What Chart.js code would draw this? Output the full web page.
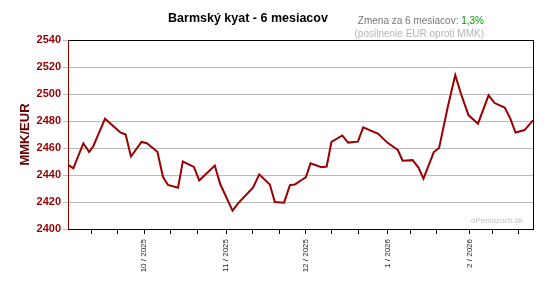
<!DOCTYPE html>
<html>
<head>
<meta charset="utf-8">
<script src="https://cdn.jsdelivr.net/npm/chart.js@4/dist/chart.umd.min.js"></script>
<style>
  body { margin: 0; background: #fff; }
  #wrap { position: relative; width: 559px; height: 284px; font-family: "Liberation Sans", Arial, sans-serif; }
  #title { position: absolute; left: 0; width: 496px; top: 11px; text-align: center; font-weight: bold; font-size: 12.5px; color: #000; }
  #change { position: absolute; right: 75px; top: 14px; font-size: 10px; color: #777; text-align: right; line-height: 13px; }
  #change .pct { color: #009900; }
  #change .sub { color: #b5b5b5; }
  #mark { position: absolute; left: 471px; top: 216px; font-size: 8px; color: #c0c0c0; }
</style>
</head>
<body>
<div id="wrap">
  <canvas id="c" width="559" height="284"></canvas>
  <div id="title">Barmský kyat - 6 mesiacov</div>
  <div id="change">Zmena za 6 mesiacov: <span class="pct">1,3%</span><br><span class="sub">(posilnenie EUR oproti MMK)</span></div>
  <div id="mark">oPeniazoch.sk</div>
</div>
<script>
// days since 1 Sep 2025
const days = [1.3, 3.2, 7.0, 9.2, 10.8, 15.2, 21.0, 23.0, 25.0, 29.0, 31.0, 35.0, 37.1, 39.0, 42.8, 44.6, 48.8, 50.8,
  56.7, 58.7, 63.4, 65.5, 71.2, 73.5, 77.5, 79.4, 82.9, 85.1, 87.0, 89.5, 91.1, 92.9, 97.0, 99.0, 100.8, 104.9,
  107.1, 110.8, 112.8, 118.5, 121.9, 125.9, 127.7, 131.5, 133.7, 135.6, 139.5, 141.5, 144.8, 147.6, 149.8, 152.6,
  156.2, 160.2, 162.5, 166.3, 168.4, 170.4, 173.8, 177];
const rates = [2447.5, 2445, 2463.5, 2457, 2461.5, 2481.7, 2471.5, 2470, 2453.7, 2464.5, 2463.5, 2457.2, 2438.7, 2432.6, 2430.6, 2450, 2446, 2436,
  2447, 2433.5, 2413.6, 2419, 2430.8, 2440.5, 2433, 2420, 2419.5, 2432.5, 2433, 2436.3, 2438.3, 2448.6, 2445.7, 2446.3, 2464.5, 2469.3,
  2464, 2464.7, 2475.3, 2470.5, 2464, 2458.5, 2450.6, 2451, 2445.5, 2437.3, 2457, 2460, 2490.5, 2514, 2500, 2484.4,
  2478, 2499, 2493.3, 2490, 2482, 2471.5, 2473.3, 2480.5];

const tickDays = [10, 20, 30, 40, 50, 61, 71, 81, 91, 101, 111, 122, 130.5, 140.5, 153, 161.5, 171.5];
const monthLabels = {30: '10 / 2025', 61: '11 / 2025', 91: '12 / 2025', 122: '1 / 2026', 153: '2 / 2026'};

const frame = {
  id: 'frame',
  afterDraw(chart) {
    const {ctx, chartArea: a} = chart;
    ctx.save();
    ctx.strokeStyle = '#000';
    ctx.lineWidth = 1;
    ctx.beginPath();
    ctx.moveTo(a.left, a.top + 0.5);
    ctx.lineTo(a.right + 0.5, a.top + 0.5);
    ctx.lineTo(a.right + 0.5, a.bottom);
    ctx.stroke();
    ctx.restore();
  }
};

new Chart(document.getElementById('c'), {
  type: 'line',
  data: {
    datasets: [{
      data: days.map((d, i) => ({x: d, y: rates[i]})),
      borderColor: '#990000',
      borderWidth: 2,
      pointRadius: 0,
      tension: 0
    }]
  },
  options: {
    responsive: false,
    animation: false,
    layout: {padding: {top: 40, right: 26, left: 0, bottom: 0}},
    plugins: {legend: {display: false}, tooltip: {enabled: false}},
    scales: {
      x: {
        type: 'linear',
        min: 1.2,
        max: 177,
        afterFit(s) { s.height = 55; },
        afterBuildTicks(s) { s.ticks = tickDays.map(v => ({value: v})); },
        border: {color: '#000'},
        grid: {drawOnChartArea: false, color: '#000', tickLength: 5},
        ticks: {
          autoSkip: false,
          minRotation: 90,
          maxRotation: 90,
          padding: 5,
          color: '#222',
          font: {family: "'Liberation Sans Narrow', 'Liberation Sans', Arial", size: 8},
          callback: v => monthLabels[v] || ''
        }
      },
      y: {
        min: 2400,
        max: 2540,
        afterFit(s) { s.width = 68; },
        border: {color: '#990000'},
        grid: {color: '#bbbbbb', tickLength: 5},
        ticks: {
          stepSize: 20,
          padding: 2,
          color: '#990000',
          font: {family: "'Liberation Sans', Arial", size: 11, weight: 'bold'},
          callback: v => String(v)
        },
        title: {
          display: true,
          text: 'MMK/EUR',
          color: '#660000',
          padding: {top: 18, bottom: 0},
          font: {family: "'Liberation Sans', Arial", size: 13, weight: 'bold'}
        }
      }
    }
  },
  plugins: [frame]
});
</script>
</body>
</html>
